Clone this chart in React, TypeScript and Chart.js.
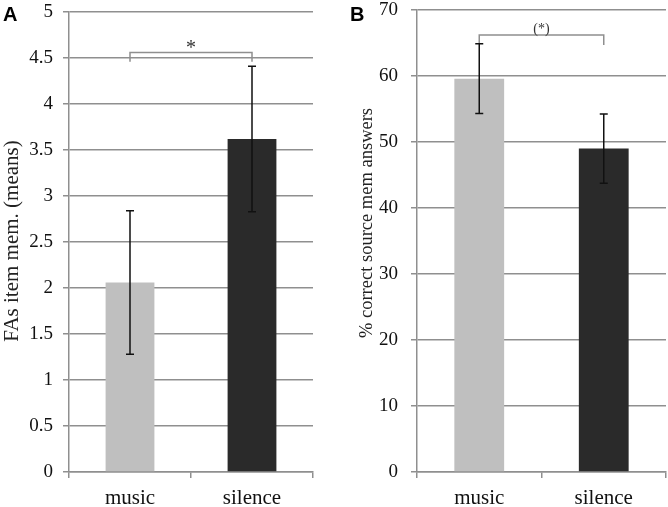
import React, { useEffect, useRef } from 'react';
import Chart from 'chart.js/auto';

const categories = ['music', 'silence'];
const barColors = ['#bfbfbf', '#2a2a2a'];

// panel A: false alarms, item memory
const faMeans = [2.06, 3.62];
const faErrors = [0.78, 0.79];
const faBracket = [4.56, 4.46, 4.46]; // level, left leg end, right leg end
const faMark = '*';

// panel B: correct source memory answers (%)
const srcMeans = [59.6, 49.0];
const srcErrors = [5.3, 5.25];
const srcBracket = [66.2, 65.0, 64.7];
const srcMark = '(*)';

const serif = '"Liberation Serif", "Times New Roman", serif';
const gridGrey = '#8f8f8f';

type PanelOpts = {
  letter: string;
  letterX: number;
  title: string;
  titleX: number;
  titleY: number;
  titleSize: number;
  errors: number[];
  bracket: number[];
  mark: string;
  markSize: number;
  markShift: number;
};

const panelPlugin = (o: PanelOpts) => ({
  id: 'panelExtras',
  afterDatasetsDraw(chart: any) {
    const ctx = chart.ctx;
    const y = chart.scales.y;
    const meta = chart.getDatasetMeta(0);
    const means = chart.data.datasets[0].data as number[];
    ctx.save();

    // error bars
    ctx.strokeStyle = '#111';
    ctx.lineWidth = 1.5;
    meta.data.forEach((bar: any, i: number) => {
      const top = y.getPixelForValue(means[i] + o.errors[i]);
      const bot = y.getPixelForValue(means[i] - o.errors[i]);
      ctx.beginPath();
      ctx.moveTo(bar.x, top);
      ctx.lineTo(bar.x, bot);
      ctx.moveTo(bar.x - 4, top);
      ctx.lineTo(bar.x + 4, top);
      ctx.moveTo(bar.x - 4, bot);
      ctx.lineTo(bar.x + 4, bot);
      ctx.stroke();
    });

    // significance bracket
    const [level, leftEnd, rightEnd] = o.bracket;
    const x0 = meta.data[0].x;
    const x1 = meta.data[1].x;
    const yl = y.getPixelForValue(level);
    ctx.strokeStyle = gridGrey;
    ctx.beginPath();
    ctx.moveTo(x0, y.getPixelForValue(leftEnd));
    ctx.lineTo(x0, yl);
    ctx.lineTo(x1, yl);
    ctx.lineTo(x1, y.getPixelForValue(rightEnd));
    ctx.stroke();
    ctx.fillStyle = '#333';
    ctx.font = `${o.markSize}px ${serif}`;
    ctx.textAlign = 'center';
    ctx.textBaseline = 'alphabetic';
    ctx.fillText(o.mark, (x0 + x1) / 2, yl + o.markShift);

    // y title
    ctx.save();
    ctx.translate(o.titleX, o.titleY);
    ctx.rotate(-Math.PI / 2);
    ctx.fillStyle = '#222';
    ctx.font = `${o.titleSize}px ${serif}`;
    ctx.textBaseline = 'middle';
    ctx.fillText(o.title, 0, 0);
    ctx.restore();

    // panel letter
    ctx.fillStyle = '#000';
    ctx.font = 'bold 20px "Liberation Sans", Arial, sans-serif';
    ctx.textAlign = 'left';
    ctx.fillText(o.letter, o.letterX, 21);
    ctx.restore();
  },
});

const buildChart = (
  canvas: HTMLCanvasElement,
  means: number[],
  min: number,
  max: number,
  step: number,
  axisWidth: number,
  tickPad: number,
  padding: { left: number; right: number; top: number; bottom: number },
  extras: PanelOpts
) =>
  new Chart(canvas, {
    type: 'bar',
    data: {
      labels: categories,
      datasets: [
        {
          data: means,
          backgroundColor: barColors,
          borderWidth: 0,
          categoryPercentage: 1,
          barPercentage: 0.4,
        },
      ],
    },
    options: {
      animation: false,
      responsive: true,
      maintainAspectRatio: false,
      layout: { padding },
      plugins: { legend: { display: false }, tooltip: { enabled: false } },
      scales: {
        x: {
          grid: { drawOnChartArea: false, tickLength: 6, color: gridGrey, lineWidth: 1.5 },
          border: { color: gridGrey, width: 1.5 },
          ticks: { color: '#111', padding: 8, font: { family: serif, size: 21 } },
          afterFit: (scale: any) => {
            scale.height = 35;
          },
        },
        y: {
          min,
          max,
          grid: { tickLength: 6, color: gridGrey, lineWidth: 1.5 },
          border: { color: gridGrey, width: 1.5 },
          ticks: {
            stepSize: step,
            color: '#111',
            padding: tickPad,
            font: { family: serif, size: 19 },
            callback: (v: any) => `${+v}`,
          },
          afterFit: (scale: any) => {
            scale.width = axisWidth;
            scale.paddingTop = 0;
            scale.paddingBottom = 0;
          },
        },
      },
    },
    plugins: [panelPlugin(extras)],
  });

const App = () => {
  const refA = useRef<HTMLCanvasElement>(null);
  const refB = useRef<HTMLCanvasElement>(null);

  useEffect(() => {
    if (!refA.current || !refB.current) return;
    const chartA = buildChart(refA.current, faMeans, 0, 5, 0.5, 69, 10,
      { left: 0, right: 21, top: 12, bottom: 0 },
      {
        letter: 'A', letterX: 3, title: 'FAs item mem. (means)', titleX: 12, titleY: 241, titleSize: 21,
        errors: faErrors, bracket: faBracket, mark: faMark, markSize: 20, markShift: 2,
      });
    const chartB = buildChart(refB.current, srcMeans, 0, 70, 10, 62, 13,
      { left: 21, right: 2, top: 10, bottom: 0 },
      {
        letter: 'B', letterX: 16, title: '% correct source mem answers', titleX: 33, titleY: 223, titleSize: 18.5,
        errors: srcErrors, bracket: srcBracket, mark: srcMark, markSize: 14, markShift: -2.5,
      });
    return () => {
      chartA.destroy();
      chartB.destroy();
    };
  }, []);

  return (
    <div style={{ position: 'fixed', left: 0, top: 0, width: 668, height: 507, background: '#fff' }}>
      <div style={{ position: 'absolute', left: 0, top: 0, width: 334, height: 507 }}>
        <canvas ref={refA} />
      </div>
      <div style={{ position: 'absolute', left: 334, top: 0, width: 334, height: 507 }}>
        <canvas ref={refB} />
      </div>
    </div>
  );
};

export default App;
